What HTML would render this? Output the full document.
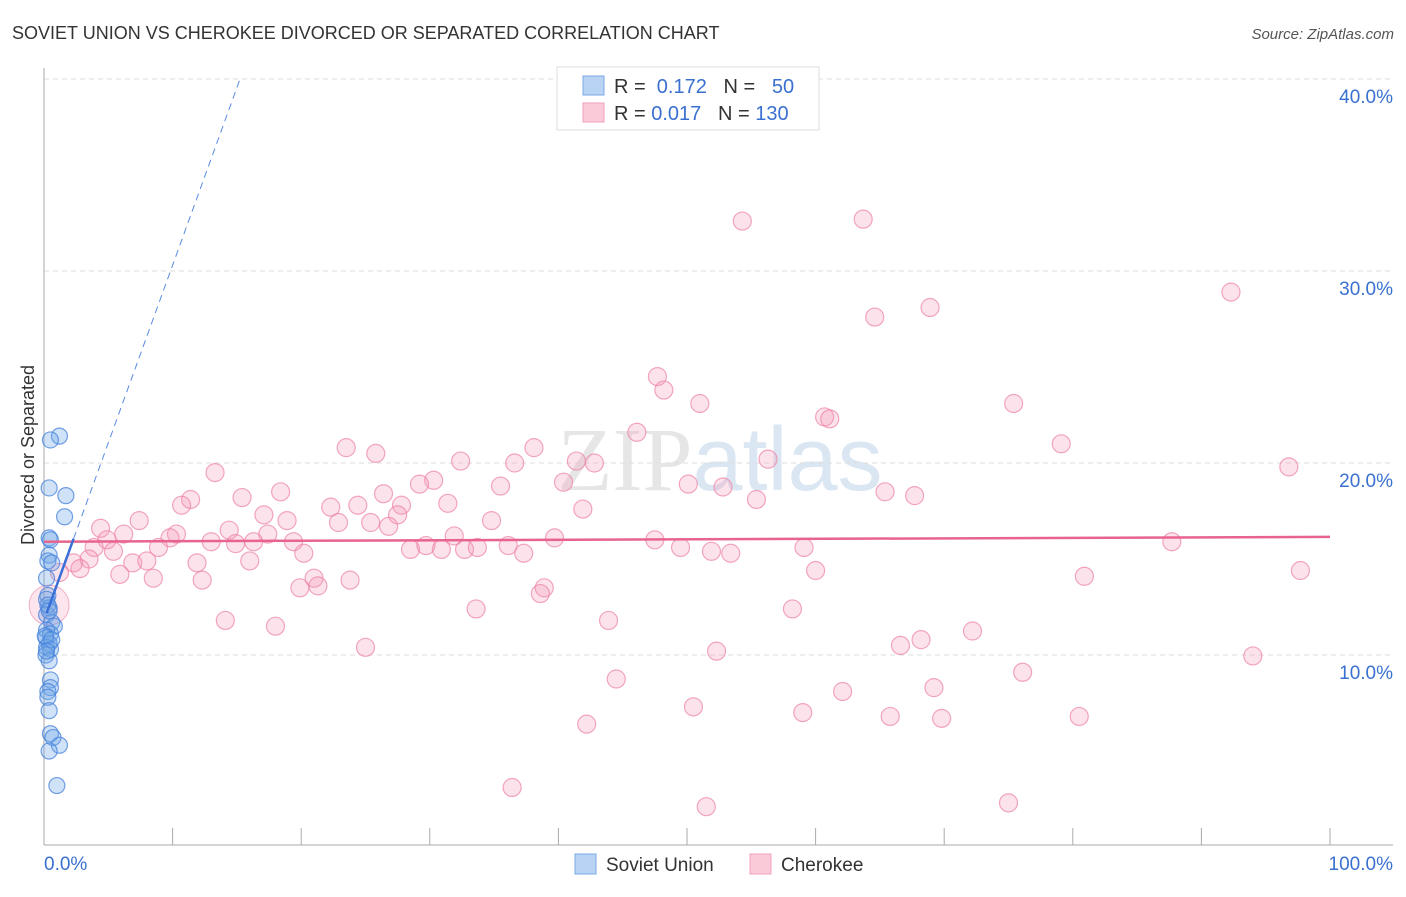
<!DOCTYPE html>
<html><head><meta charset="utf-8"><style>
body{margin:0;background:#fff;font-family:"Liberation Sans",sans-serif;}
svg text{font-family:"Liberation Sans",sans-serif;}
</style></head><body>
<svg id="chart" width="1406" height="892" xmlns="http://www.w3.org/2000/svg">
<text x="12" y="39" font-size="18" fill="#333">SOVIET UNION VS CHEROKEE DIVORCED OR SEPARATED CORRELATION CHART</text>
<text x="1394" y="39" font-size="15" fill="#555" text-anchor="end" font-style="italic">Source: ZipAtlas.com</text>
<text x="720" y="490" font-size="90" text-anchor="middle" fill="#e6e6e6"><tspan font-family="Liberation Serif">ZIP</tspan><tspan fill="#dbe6f3">atlas</tspan></text>
<g id="grid"></g>
<g id="axes"></g>
<text transform="translate(34,455) rotate(-90)" font-size="18" fill="#333" text-anchor="middle">Divorced or Separated</text>
<g id="points"></g>
<g id="lines"></g>
<g>
<rect x="557" y="67" width="262" height="63" fill="#fff" stroke="#ddd"/>
<rect x="583" y="76" width="21" height="19" fill="#b9d3f5" stroke="#7aa8e6"/>
<rect x="583" y="103" width="21" height="19" fill="#fbcad9" stroke="#f0a0bb"/>
<text x="614" y="93" font-size="20" fill="#333">R = <tspan fill="#3a70d0">&#160;0.172</tspan>&#160;&#160;&#160;N = <tspan fill="#3a70d0">&#160;&#160;50</tspan></text>
<text x="614" y="120" font-size="20" fill="#333">R = <tspan fill="#3a70d0">0.017</tspan>&#160;&#160;&#160;N = <tspan fill="#3a70d0">130</tspan></text>
</g>
<g>
<rect x="575" y="854" width="21" height="20" fill="#b9d3f5" stroke="#7aa8e6"/>
<text x="606" y="871" font-size="19" fill="#333">Soviet Union</text>
<rect x="750" y="854" width="21" height="20" fill="#fbcad9" stroke="#f0a0bb"/>
<text x="781" y="871" font-size="19" fill="#333">Cherokee</text>
</g>
</svg>
<script>
const yTicks=[10,20,30,40];
const yTickLabels=["10.0%","20.0%","30.0%","40.0%"];
const xTickLabels=["0.0%","100.0%"];
const cherokeeX=[54.3,63.7,64.6,68.9,92.3,47.7,48.2,51.0,75.4,60.7,61.1,46.1,79.1,23.5,25.8,38.1,32.4,36.6,41.4,42.8,56.3,96.8,13.3,30.3,40.4,29.2,35.5,50.1,52.8,18.4,26.4,15.4,65.4,67.7,55.4,11.4,10.7,31.4,22.3,24.4,27.8,41.9,17.1,27.5,7.4,18.9,22.9,25.4,26.8,34.8,4.4,14.4,17.4,6.2,10.3,9.8,4.9,13.0,14.9,16.3,19.4,31.9,39.7,47.5,3.9,8.9,5.4,20.2,28.5,29.7,30.9,32.7,33.7,36.1,37.3,49.5,51.9,53.4,59.1,87.7,3.5,6.9,8.0,11.9,16.0,2.3,2.8,1.2,5.9,60.0,97.7,21.0,80.9,8.5,12.3,21.3,23.8,38.9,19.9,38.6,33.6,58.2,14.1,43.9,18.0,72.2,68.2,66.6,25.0,52.3,94.0,76.1,44.5,69.2,62.1,50.5,59.0,65.8,69.8,80.5,42.2,36.4,51.5,75.0];
const cherokeeY=[32.6,32.7,27.6,28.1,28.9,24.5,23.8,23.1,23.1,22.4,22.3,21.6,21.0,20.8,20.5,20.8,20.1,20.0,20.1,20.0,20.2,19.8,19.5,19.1,19.0,18.9,18.8,18.9,18.75,18.5,18.4,18.2,18.5,18.3,18.1,18.1,17.8,17.9,17.7,17.8,17.8,17.6,17.3,17.3,17.0,17.0,16.9,16.9,16.7,17.0,16.6,16.5,16.3,16.3,16.3,16.1,16.0,15.9,15.8,15.9,15.9,16.2,16.1,16.0,15.6,15.6,15.4,15.3,15.5,15.7,15.5,15.5,15.6,15.7,15.3,15.6,15.4,15.3,15.6,15.9,15.0,14.8,14.9,14.8,14.9,14.8,14.5,14.3,14.2,14.4,14.4,14.0,14.1,14.0,13.9,13.6,13.9,13.5,13.5,13.2,12.4,12.4,11.8,11.8,11.5,11.25,10.8,10.5,10.4,10.2,9.95,9.1,8.75,8.3,8.1,7.3,7.0,6.8,6.7,6.8,6.4,3.1,2.1,2.3];
const sovietX=[1.2,0.5,0.4,1.7,1.6,0.4,0.5,0.4,0.3,0.6,0.2,0.3,0.2,0.4,0.2,0.6,0.8,0.2,0.5,0.15,0.4,0.2,0.5,0.15,0.4,0.5,0.5,0.3,0.3,0.4,0.5,0.7,1.2,0.4,1.0,0.3,0.1,0.6,0.2,0.4];
const sovietY=[21.4,21.2,18.7,18.3,17.2,16.1,16.0,15.2,14.9,14.8,14.0,13.1,12.9,12.45,12.1,11.7,11.5,11.3,11.1,10.9,10.6,10.4,10.3,10.0,9.7,8.7,8.3,8.1,7.8,7.1,5.9,5.7,5.3,5.0,3.2,12.6,11.0,10.8,10.2,12.3];
const cherokeeTrend=[15.9,16.15];
const sovietTrend={intercept:11.8,slope:1.85,solidEnd:2.3,dashEnd:15.3};
const NS="http://www.w3.org/2000/svg";
const X=v=>44+v*12.86, Y=v=>847-v*19.2;
function mk(tag,attrs,parent){const e=document.createElementNS(NS,tag);for(const k in attrs)e.setAttribute(k,attrs[k]);parent.appendChild(e);return e;}
const grid=document.getElementById('grid'),axes=document.getElementById('axes'),pts=document.getElementById('points'),lines=document.getElementById('lines');
yTicks.forEach((t,i)=>{
 const l=mk('line',{x1:44,x2:1393,y1:Y(t),y2:Y(t),stroke:'#ddd','stroke-dasharray':'5,4'},grid);
 
 
 const tx=mk('text',{x:1393,y:Y(t)+24,'font-size':19,fill:'#3a70d0','text-anchor':'end'},axes);
 tx.textContent=yTickLabels[i];
 
 
});
let a=mk('line',{x1:44,x2:44,y1:68,y2:845,stroke:'#aaa'},axes);


a=mk('line',{x1:44,x2:1393,y1:845,y2:845,stroke:'#aaa'},axes);


for(let i=0;i<=10;i++){
 const t=mk('line',{x1:X(i*10),x2:X(i*10),y1:828,y2:845,stroke:'#aaa'},axes);
 
 
}
[[0,'start',44],[1,'end',1393]].forEach(([i,anc,x])=>{
 const tx=mk('text',{x:x,y:870,'font-size':19,fill:'#3a70d0','text-anchor':anc},axes);
 tx.textContent=xTickLabels[i];
 
 
});
cherokeeX.forEach((v,i)=>{
 const c=mk('circle',{cx:X(v),cy:Y(cherokeeY[i]),r:9,fill:'rgba(244,150,182,0.28)',stroke:'rgba(236,130,165,0.7)','stroke-width':1.2},pts);
 
 
});
const big=mk('circle',{cx:X(0.4),cy:Y(12.6),r:20,fill:'rgba(244,150,182,0.25)',stroke:'rgba(236,130,165,0.6)'},pts);


sovietX.forEach((v,i)=>{
 const c=mk('circle',{cx:X(v),cy:Y(sovietY[i]),r:8,fill:'rgba(110,165,230,0.32)',stroke:'rgba(70,130,220,0.75)','stroke-width':1.2},pts);
 
 
});
let l=mk('line',{x1:X(0),x2:X(100),y1:Y(cherokeeTrend[0]),y2:Y(cherokeeTrend[1]),stroke:'#e8648f','stroke-width':2.5},lines);


const sy=x=>sovietTrend.intercept+sovietTrend.slope*x;
l=mk('line',{x1:X(0.2),x2:X(sovietTrend.solidEnd),y1:Y(sy(0.2)),y2:Y(sy(sovietTrend.solidEnd)),stroke:'#3a6fd8','stroke-width':2.5},lines);


l=mk('line',{x1:X(sovietTrend.solidEnd),x2:X(sovietTrend.dashEnd),y1:Y(sy(sovietTrend.solidEnd)),y2:Y(sy(sovietTrend.dashEnd)),stroke:'#5a8be0','stroke-width':1,'stroke-dasharray':'7,5'},lines);


</script>
</body></html>
